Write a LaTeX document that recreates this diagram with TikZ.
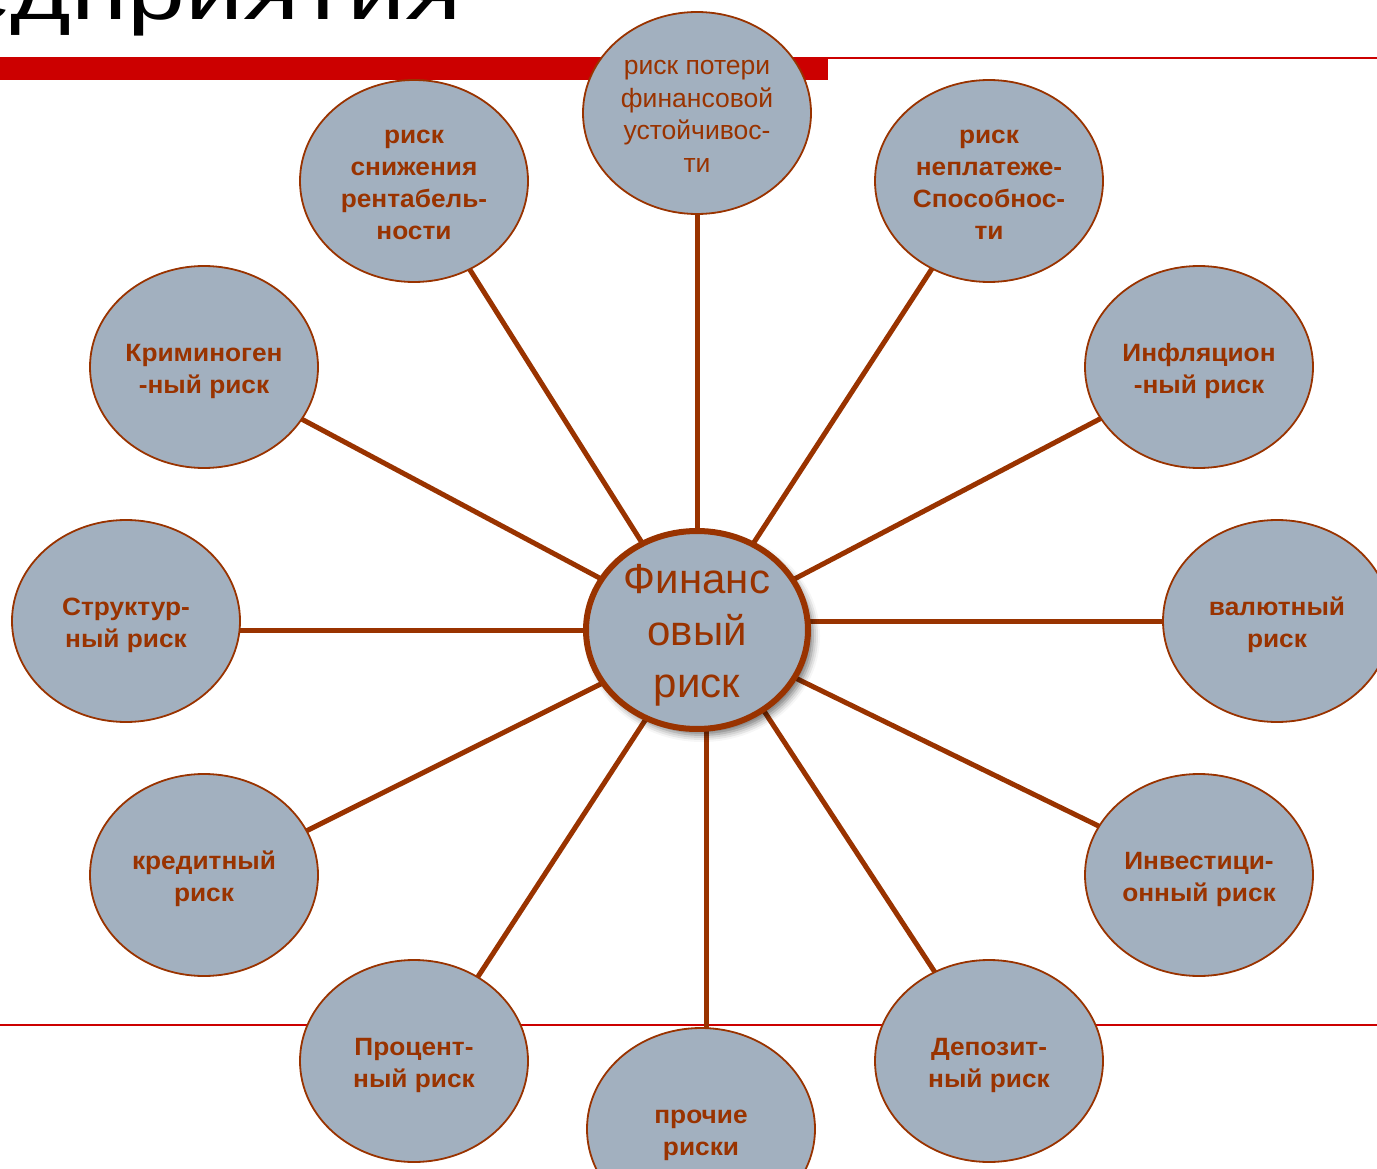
\documentclass[tikz,border=0pt]{standalone}
\usepackage{fontspec}
\usepackage{graphicx}
\setmainfont{Liberation Sans}
\newfontfamily\widesans[FakeStretch=1.05]{Liberation Sans}
\usetikzlibrary{shapes.geometric,shadows.blur,backgrounds}
\definecolor{rbrown}{RGB}{153,51,0}
\definecolor{rfill}{RGB}{162,176,191}
\definecolor{rred}{RGB}{204,0,0}
\newcommand\rtxt[2][4pt]{\raisebox{-#1}[\height][\depth]{\begin{tabular}{@{}c@{}}#2\end{tabular}}}
\begin{document}
\begin{tikzpicture}[x=1pt,y=-1pt,
  risk/.style={ellipse, draw=rbrown, line width=1.8pt, fill=rfill,
    minimum width=228pt, minimum height=202pt, inner sep=0pt,
    text=rbrown, align=center, font=\widesans\fontsize{25}{32}\selectfont\bfseries},
  riskreg/.style={risk, font=\fontsize{26.5}{32.5}\selectfont},
  hub/.style={ellipse, draw=rbrown, line width=6pt, fill=rfill,
    minimum width=222pt, minimum height=198pt, inner sep=-20pt,
    text=rbrown, align=center, font=\fontsize{42}{52}\selectfont,
    blur shadow={shadow xshift=5pt, shadow yshift=-6pt, shadow blur radius=7pt, shadow opacity=55}},
  link/.style={draw=rbrown, line width=5pt},
  redline/.style={draw=rred, line width=2pt}]
\useasboundingbox (0,0) rectangle (1377,1169);
\begin{scope}
\clip (0,0) rectangle (1377,1169);
\node[anchor=base east, inner sep=0pt, font=\fontsize{80}{80}\selectfont] (title) at (462,20) {\scalebox{1.3}[1]{едприятия}};

\node[riskreg] (n1) at (697,113) {\rtxt{риск потери\\финансовой\\устойчивос-\\ти}};
\node[risk] (n2) at (414,181) {\rtxt{риск\\снижения\\рентабель-\\ности}};
\node[risk] (n3) at (989,181) {\rtxt{риск\\неплатеже-\\Способнос-\\ти}};
\node[risk] (n4) at (204,367) {\rtxt{Криминоген\\-ный риск}};
\node[risk] (n5) at (1199,367) {\rtxt{Инфляцион\\-ный риск}};
\node[risk] (n6) at (126,621) {\rtxt{Структур-\\ный риск}};
\node[risk] (n7) at (1277,621) {\rtxt{валютный\\риск}};
\node[risk] (n8) at (204,875) {\rtxt{кредитный\\риск}};
\node[risk] (n9) at (1199,875) {\rtxt{Инвестици-\\онный риск}};
\node[risk] (n10) at (414,1061) {\rtxt{Процент-\\ный риск}};
\node[risk] (n11) at (701,1129) {\rtxt{прочие\\риски}};
\node[risk] (n12) at (989,1061) {\rtxt{Депозит-\\ный риск}};

\node[hub] (c) at (697,630) {\rtxt[5pt]{Финанс\\овый\\риск}};

\begin{pgfonlayer}{background}
\fill[rred] (0,58) rectangle (828,80);
\draw[redline] (0,58) -- (1377,58);
\draw[redline] (0,1025) -- (1377,1025);
\draw[link] (c.center) -- (n1.center);
\draw[link] (c.center) -- (n2.center);
\draw[link] (c.center) -- (n3.center);
\draw[link] (c.center) -- (n4.center);
\draw[link] (c.center) -- (n5.center);
\draw[link] (c.center) -- (c.center -| n6.center);
\draw[link] (c.center |- n7.center) -- (n7.center);
\draw[link] ([yshift=-6pt]c.center) -- ([yshift=-7pt]n8.center);
\draw[link] (c.center) -- (n9.center);
\draw[link] ([xshift=7pt]c.center) -- ([xshift=9pt]n10.center);
\draw[link] ([xshift=9pt]c.center) -- ([xshift=5pt]n11.center);
\draw[link] ([xshift=14pt]c.center) -- ([xshift=4pt]n12.center);
\end{pgfonlayer}
\end{scope}
\end{tikzpicture}
\end{document}
